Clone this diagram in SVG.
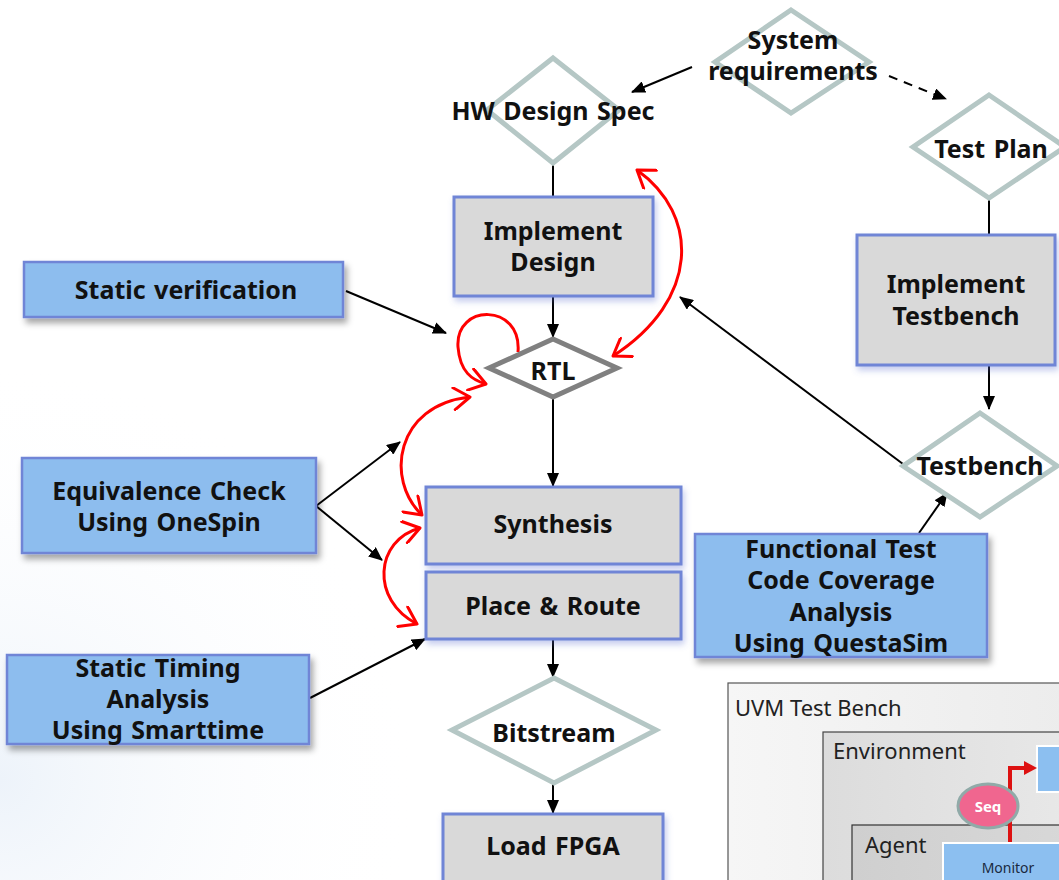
<svg xmlns="http://www.w3.org/2000/svg" width="1059" height="880" viewBox="0 0 1059 880">
  <defs>
    <style>
      .lbl { font-family: "Noto Sans", "Liberation Sans", sans-serif; font-weight: 700; font-size: 25px; fill: #111; text-anchor: middle; word-spacing: 2px; }
      .dia { fill: #fff; stroke: #b5c7c5; stroke-width: 5; stroke-linejoin: miter; }
      .proc { fill: #d9d9d9; stroke: #6f85d6; stroke-width: 3; filter: url(#glow); }
      .tool { fill: #8dbdee; stroke: #6f85d6; stroke-width: 2.5; filter: url(#shadow); }
      .wire { fill: none; stroke: #000; stroke-width: 2; marker-end: url(#ah); }
      .plain { fill: none; stroke: #000; stroke-width: 2; }
      .loop { fill: none; stroke: #f00; stroke-width: 3; marker-end: url(#rh); }
      .both { fill: none; stroke: #f00; stroke-width: 3; marker-start: url(#rh); marker-end: url(#rh); }
      .uvmtxt { font-family: "Noto Sans", "Liberation Sans", sans-serif; font-size: 22px; fill: #222; }
    </style>
    <marker id="ah" viewBox="0 0 14 12" refX="13" refY="6" markerWidth="14" markerHeight="12" markerUnits="userSpaceOnUse" orient="auto">
      <path d="M0,0 L14,6 L0,12 z" fill="#000"/>
    </marker>
    <marker id="rh" viewBox="0 0 20 24" refX="18" refY="12" markerWidth="20" markerHeight="24" markerUnits="userSpaceOnUse" orient="auto-start-reverse">
      <path d="M2,1 L18,12 L2,23" fill="none" stroke="#f00" stroke-width="3" stroke-linecap="round" stroke-linejoin="round"/>
    </marker>
    <filter id="shadow" x="-10%" y="-20%" width="130%" height="150%">
      <feDropShadow dx="3" dy="5" stdDeviation="3" flood-color="#000" flood-opacity="0.35"/>
    </filter>
    <filter id="glow" x="-10%" y="-20%" width="130%" height="150%">
      <feDropShadow dx="2" dy="4" stdDeviation="3" flood-color="#5b6fd0" flood-opacity="0.35"/>
    </filter>
    <radialGradient id="haze" cx="0" cy="780" r="420" gradientUnits="userSpaceOnUse">
      <stop offset="0" stop-color="#edf3fa"/>
      <stop offset="1" stop-color="#ffffff" stop-opacity="0"/>
    </radialGradient>
    <linearGradient id="uvmOuter" x1="0" y1="0" x2="1" y2="0">
      <stop offset="0" stop-color="#f6f6f6"/>
      <stop offset="1" stop-color="#ececec"/>
    </linearGradient>
    <linearGradient id="uvmEnv" x1="0" y1="0" x2="1" y2="0">
      <stop offset="0" stop-color="#dcdcdc"/>
      <stop offset="1" stop-color="#e8e8e8"/>
    </linearGradient>
    <linearGradient id="uvmAgent" x1="0" y1="0" x2="1" y2="0">
      <stop offset="0" stop-color="#cfcfcf"/>
      <stop offset="1" stop-color="#d8d8d8"/>
    </linearGradient>
  </defs>

  <rect width="1059" height="880" fill="#fff"/>
  <rect width="1059" height="880" fill="url(#haze)"/>

  <!-- connectors -->
  <g id="connectors">
    <path class="wire" d="M692,67 L632,92"/>
    <path class="wire" d="M889,76 L946,99" stroke-dasharray="9,7"/>
    <path class="plain" d="M553,163 L553,197"/>
    <path class="wire" d="M553,296 L553,337"/>
    <path class="wire" d="M346,291 L446,333"/>
    <path class="wire" d="M553,398 L553,486"/>
    <path class="wire" d="M316,506 L400,442"/>
    <path class="wire" d="M316,506 L382,560"/>
    <path class="wire" d="M310,698 L425,639"/>
    <path class="wire" d="M553,639 L553,677"/>
    <path class="wire" d="M553,783 L553,813"/>
    <path class="plain" d="M989,198 L989,235"/>
    <path class="wire" d="M989,365 L989,409"/>
    <path class="wire" d="M903,464 L680,297"/>
    <path class="wire" d="M919,533 L947,493"/>
    <!-- iteration loops -->
    <path class="both" d="M637,170 C700,215 700,300 613,356"/>
    <path class="loop" d="M518,352 C522,303 455,303 458,347 C460,372 472,380 486,384"/>
    <path class="both" d="M470,397 C395,405 385,480 422,515"/>
    <path class="both" d="M420,528 C375,540 370,600 417,624"/>
  </g>

  <!-- decision / artefact diamonds -->
  <g id="sysreq">
    <polygon class="dia" points="791,10 869,62 791,113 715,62"/>
    <text class="lbl" x="793" y="49">System</text>
    <text class="lbl" x="793" y="80">requirements</text>
  </g>
  <g id="hwspec">
    <polygon class="dia" points="553,58 619,110 553,163 487,110"/>
    <text class="lbl" x="553" y="120">HW Design Spec</text>
  </g>
  <g id="testplan">
    <polygon class="dia" points="989,95 1065,147 989,198 913,147"/>
    <text class="lbl" x="991" y="158">Test Plan</text>
  </g>
  <g id="rtl">
    <polygon points="553,339 617,368 553,397 489,368" fill="#fff" stroke="#808080" stroke-width="5"/>
    <text class="lbl" x="553" y="380">RTL</text>
  </g>
  <g id="testbench">
    <polygon class="dia" points="980,413 1057,466 980,517 903,466"/>
    <text class="lbl" x="980" y="475">Testbench</text>
  </g>
  <g id="bitstream">
    <polygon class="dia" points="554,678 656,730 554,783 452,730"/>
    <text class="lbl" x="554" y="742">Bitstream</text>
  </g>

  <!-- process steps -->
  <g id="implDesign">
    <rect class="proc" x="454" y="197" width="199" height="99"/>
    <text class="lbl" x="553" y="240">Implement</text>
    <text class="lbl" x="553" y="271">Design</text>
  </g>
  <g id="implTestbench">
    <rect class="proc" x="857" y="235" width="198" height="130"/>
    <text class="lbl" x="956" y="293">Implement</text>
    <text class="lbl" x="956" y="325">Testbench</text>
  </g>
  <g id="synthesis">
    <rect class="proc" x="426" y="487" width="255" height="77"/>
    <text class="lbl" x="553" y="533">Synthesis</text>
  </g>
  <g id="placeRoute">
    <rect class="proc" x="426" y="572" width="255" height="67"/>
    <text class="lbl" x="553" y="615">Place &amp; Route</text>
  </g>
  <g id="loadFpga">
    <rect class="proc" x="443" y="814" width="220" height="72"/>
    <text class="lbl" x="553" y="855">Load FPGA</text>
  </g>

  <!-- verification tools -->
  <g id="staticVerification">
    <rect class="tool" x="24" y="262" width="319" height="55"/>
    <text class="lbl" x="186" y="299">Static verification</text>
  </g>
  <g id="equivalence">
    <rect class="tool" x="22" y="458" width="294" height="95"/>
    <text class="lbl" x="169" y="500">Equivalence Check</text>
    <text class="lbl" x="169" y="531">Using OneSpin</text>
  </g>
  <g id="staticTiming">
    <rect class="tool" x="7" y="655" width="302" height="89"/>
    <text class="lbl" x="158" y="677">Static Timing</text>
    <text class="lbl" x="158" y="708">Analysis</text>
    <text class="lbl" x="158" y="739">Using Smarttime</text>
  </g>
  <g id="functional">
    <rect class="tool" x="695" y="534" width="292" height="123"/>
    <text class="lbl" x="841" y="558">Functional Test</text>
    <text class="lbl" x="841" y="589">Code Coverage</text>
    <text class="lbl" x="841" y="621">Analysis</text>
    <text class="lbl" x="841" y="652">Using QuestaSim</text>
  </g>

  <!-- UVM test bench excerpt -->
  <g id="uvm">
    <rect x="728" y="683" width="340" height="210" fill="url(#uvmOuter)" stroke="#555" stroke-width="1.2"/>
    <text class="uvmtxt" x="735" y="716">UVM Test Bench</text>
    <rect x="823" y="732" width="250" height="160" fill="url(#uvmEnv)" stroke="#444" stroke-width="1.2"/>
    <text class="uvmtxt" x="833" y="759">Environment</text>
    <rect x="1037" y="746" width="40" height="46" fill="#8cbff0" stroke="#fff" stroke-width="2"/>
    <rect x="852" y="825" width="220" height="70" fill="url(#uvmAgent)" stroke="#333" stroke-width="1.2"/>
    <text class="uvmtxt" x="865" y="853">Agent</text>
    <path d="M1010,843 L1010,768 L1026,768" fill="none" stroke="#d11" stroke-width="4"/>
    <path d="M1024,761 L1037,768 L1024,775 z" fill="#d11"/>
    <rect x="943" y="843" width="130" height="45" fill="#8cbff0" stroke="#fff" stroke-width="2"/>
    <text x="1008" y="873" font-family="Noto Sans, Liberation Sans, sans-serif" font-size="14" fill="#1a2a40" text-anchor="middle">Monitor</text>
    <ellipse cx="988" cy="806" rx="30" ry="22" fill="#f0668f" stroke="#90aaa8" stroke-width="3"/>
    <text x="988" y="812" font-family="Noto Sans, Liberation Sans, sans-serif" font-size="15" font-weight="700" fill="#fff" text-anchor="middle">Seq</text>
  </g>
</svg>
